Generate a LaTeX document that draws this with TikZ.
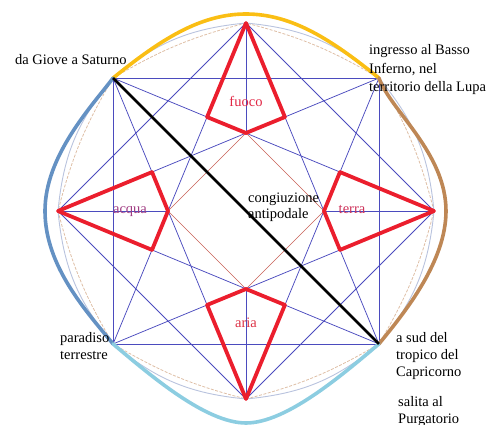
\documentclass[tikz,border=0pt]{standalone}
\usepackage{fontspec}
\setmainfont{Liberation Serif}
\usepackage{xcolor}
\usepackage{tikz}
\usetikzlibrary{calc}

\definecolor{gridblue}{RGB}{75,75,190}
\definecolor{kitered}{RGB}{235,30,45}
\definecolor{innerred}{RGB}{200,95,85}
\definecolor{rimgold}{RGB}{250,190,20}
\definecolor{rimbrown}{RGB}{190,135,85}
\definecolor{rimsteel}{RGB}{100,145,195}
\definecolor{rimsky}{RGB}{140,205,225}
\definecolor{paleblue}{RGB}{185,195,222}
\definecolor{paletan}{RGB}{222,190,165}
\definecolor{fuococol}{RGB}{225,40,70}
\definecolor{acquacol}{RGB}{160,60,130}
\definecolor{terracol}{RGB}{205,50,90}
\definecolor{ariacol}{RGB}{220,50,70}

\begin{document}
\begin{tikzpicture}[x=1pt, y=1pt,
  grid/.style={draw=gridblue, line width=0.75pt},
  kite/.style={draw=kitered, line width=3.8pt, line join=round},
  rim/.style={line width=3.6pt, line cap=round},
  lbl/.style={font=\fontsize{14.5}{17}\selectfont, inner sep=0pt, anchor=base west, align=left},
  elem/.style={font=\fontsize{14.5}{17}\selectfont, inner sep=0pt, anchor=base}]
  \useasboundingbox (-246,-214) rectangle (250,211);

  % Octagon vertices and inner points
  \foreach \a in {0,45,...,315} {
    \coordinate (v\a) at (\a:188);
    \coordinate (i\a) at (\a:78);
  }
  \foreach \a in {0,90,180,270} {
    \pgfmathsetmacro\lo{\a-22.5}
    \pgfmathsetmacro\hi{\a+22.5}
    \coordinate (l\a) at (\lo:101.7);
    \coordinate (r\a) at (\hi:101.7);
  }

  % Faint arcs along the octagon
  \foreach \a in {0,45,...,315} {
    \pgfmathtruncatemacro\b{mod(\a+45,360)}
    \draw[paletan, line width=0.8pt, dash pattern=on 3pt off 1.5pt] (v\a) to[bend right=8] (v\b);
    \draw[paleblue, line width=0.9pt] (v\a) to[bend right=17] (v\b);
  }

  % Blue construction lines
  \draw[grid] (v45) -- (v135) -- (v225) -- (v315) -- cycle;
  \draw[grid] (v0) -- (v90) -- (v180) -- (v270) -- cycle;
  \foreach \a in {0,45,...,315} {
    \pgfmathtruncatemacro\b{mod(\a+135,360)}
    \draw[grid] (v\a) -- (v\b);
  }
  \foreach \a in {0,90,180,270}
    \draw[grid] (v\a) -- (i\a);

  % Inner red square
  \draw[innerred, line width=0.6pt] (i0) -- (i90) -- (i180) -- (i270) -- cycle;

  % Outer coloured rim
  \draw[rim, rimgold] (v135) .. controls (-86,171) and (-46,197) .. (0,197)
    .. controls (46,197) and (86,171) .. (v45);
  \draw[rim, rimbrown] (v45) .. controls (145,100) and (200,58) .. (200,0)
    .. controls (200,-50) and (160,-100) .. (v315);
  \draw[rim, rimsteel] (v135) .. controls (-155,104) and (-201,55) .. (-201,0)
    .. controls (-201,-55) and (-160,-100) .. (v225);
  \draw[rim, rimsky] (v225) .. controls (-95,-165) and (-40,-212) .. (0,-212)
    .. controls (40,-212) and (95,-165) .. (v315);

  % Element kites
  \foreach \a in {0,90,180,270}
    \draw[kite] (v\a) -- (r\a) -- (i\a) -- (l\a) -- cycle;

  % Labels
  \node[elem, text=fuococol] (fuoco) at (0,104) {fuoco};
  \node[elem, text=acquacol] (acqua) at (-116,-2.5) {acqua};
  \node[elem, text=terracol] (terra) at (106,-3) {terra};
  \node[elem, text=ariacol] (aria) at (0,-117) {aria};
  \node[lbl, font=\fontsize{14.5}{16.5}\selectfont] (congiunz) at (2,-8) {congiuzione\\antipodale};

  % Antipodal diagonal
  \draw[line width=2.5pt] (v135) -- (v315);

  \node[lbl] (giove) at (-231,146) {da Giove a Saturno};
  \node[lbl, font=\fontsize{14.5}{18.5}\selectfont] (inferno) at (123,119) {ingresso al Basso\\Inferno, nel\\territorio della Lupa};
  \node[lbl] (paradiso) at (-186,-149) {paradiso\\terrestre};
  \node[lbl] (tropico) at (150,-166) {a sud del\\tropico del\\Capricorno};
  \node[lbl] (salita) at (152,-213) {salita al\\Purgatorio};
\end{tikzpicture}
\end{document}
